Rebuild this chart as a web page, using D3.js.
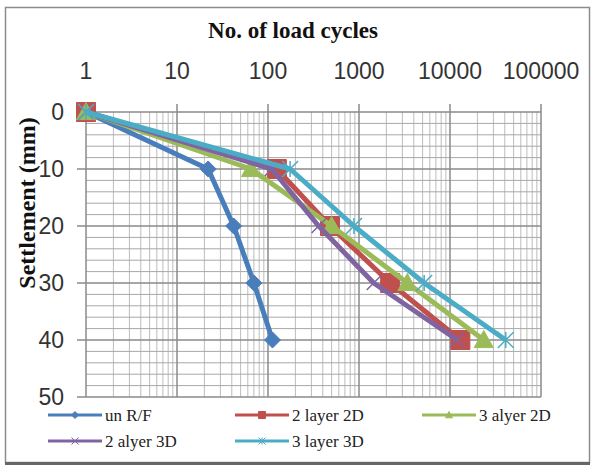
<!DOCTYPE html>
<html lang="en">
<head>
    <meta charset="UTF-8">
    <title>Settlement vs load cycles</title>
    <script src="https://cdn.jsdelivr.net/npm/d3@7/dist/d3.min.js"></script>
    <style>
        body { margin: 0; background: #fff; }
        svg { display: block; }
    </style>
</head>
<body>
<script>
    // chart size
    const width = 592;
    const height = 466;
    const plot = {left: 86, right: 541, top: 112, bottom: 397};

    // data: settlement levels and load cycles per series
    const settlement = [0, 10, 20, 30, 40];
    const unRF = [1, 22, 42, 70, 112];
    const layer2_2D = [1, 125, 480, 2200, 13000];
    const alyer3_2D = [1, 65, 500, 3400, 23500];
    const alyer2_3D = [1, 110, 360, 1450, 12000];
    const layer3_3D = [1, 175, 880, 5200, 41000];

    const seriesNames = ['un R/F', '2 layer 2D', '3 alyer 2D', '2 alyer 3D', '3 layer 3D'];
    const seriesValues = [unRF, layer2_2D, alyer3_2D, alyer2_3D, layer3_3D];
    const seriesColors = ['#4a7ebb', '#c0504d', '#9bbb59', '#8064a2', '#4bacc6'];
    const seriesMarkers = ['diamond', 'square', 'triangle', 'x', 'star'];

    const xTicks = [1, 10, 100, 1000, 10000, 100000];
    const yTicks = [0, 10, 20, 30, 40, 50];

    let svg = d3.select('body').append('svg')
        .attr('width', width)
        .attr('height', height);

    // outer chart border
    svg.append('rect')
        .attr('x', 5.5).attr('y', 7.5)
        .attr('width', 584).attr('height', 455)
        .attr('fill', '#fff')
        .attr('stroke', '#8c8c8c')
        .attr('stroke-width', 1.5);
    svg.append('line')
        .attr('x1', 5).attr('x2', 590)
        .attr('y1', 463.5).attr('y2', 463.5)
        .attr('stroke', '#666').attr('stroke-width', 3);

    let x = d3.scaleLog().domain([1, 100000]).range([plot.left, plot.right]);
    let y = d3.scaleLinear().domain([0, 50]).range([plot.top, plot.bottom]);

    // grid lines
    let grid = svg.append('g');
    let minorX = [];
    for (let d = 1; d < 100000; d *= 10) {
        for (let k = 2; k <= 9; k++) minorX.push(d * k);
    }
    grid.selectAll('.mx').data(minorX).enter().append('line')
        .attr('x1', d => x(d)).attr('x2', d => x(d))
        .attr('y1', plot.top).attr('y2', plot.bottom)
        .attr('stroke', '#bdbdbd').attr('stroke-width', 1);
    grid.selectAll('.my').data(d3.range(2, 50, 2).filter(v => v % 10 !== 0)).enter().append('line')
        .attr('x1', plot.left).attr('x2', plot.right)
        .attr('y1', d => y(d)).attr('y2', d => y(d))
        .attr('stroke', '#a8a8a8').attr('stroke-width', 1);
    grid.selectAll('.Mx').data(xTicks).enter().append('line')
        .attr('x1', d => x(d)).attr('x2', d => x(d))
        .attr('y1', plot.top - 8).attr('y2', plot.bottom)
        .attr('stroke', '#8a8a8a').attr('stroke-width', 1.5);
    grid.selectAll('.My').data(yTicks).enter().append('line')
        .attr('x1', plot.left - 9).attr('x2', plot.right)
        .attr('y1', d => y(d)).attr('y2', d => y(d))
        .attr('stroke', '#8a8a8a').attr('stroke-width', 1.5);

    // top axis labels
    svg.append('g').selectAll('text').data(xTicks).enter().append('text')
        .attr('x', d => x(d)).attr('y', 79)
        .attr('text-anchor', 'middle')
        .attr('font-family', 'Liberation Sans, Arial, sans-serif')
        .attr('font-size', 23).attr('fill', '#333')
        .text(d => d);

    // left axis labels
    svg.append('g').selectAll('text').data(yTicks).enter().append('text')
        .attr('x', 64).attr('y', d => y(d) + 8)
        .attr('text-anchor', 'end')
        .attr('font-family', 'Liberation Sans, Arial, sans-serif')
        .attr('font-size', 23).attr('fill', '#333')
        .text(d => d);

    // axis titles
    svg.append('text')
        .attr('x', 293).attr('y', 38)
        .attr('text-anchor', 'middle')
        .attr('font-family', 'Liberation Serif, Times New Roman, serif')
        .attr('font-weight', 'bold')
        .attr('font-size', 23).attr('fill', '#111')
        .text('No. of load cycles');
    svg.append('text')
        .attr('transform', 'translate(35,203) rotate(-90)')
        .attr('text-anchor', 'middle')
        .attr('font-family', 'Liberation Serif, Times New Roman, serif')
        .attr('font-weight', 'bold')
        .attr('font-size', 24).attr('fill', '#111')
        .text('Settlement (mm)');

    // marker shapes
    function markerPath (type, size) {
        const s = size / 2;
        if (type === 'diamond') return `M0,${-s}L${s},0L0,${s}L${-s},0Z`;
        if (type === 'square') return `M${-s},${-s}H${s}V${s}H${-s}Z`;
        if (type === 'triangle') return `M0,${-s}L${s},${s * 0.8}L${-s},${s * 0.8}Z`;
        if (type === 'x') return `M${-s},${-s}L${s},${s}M${s},${-s}L${-s},${s}`;
        return `M${-s},${-s}L${s},${s}M${s},${-s}L${-s},${s}M0,${-s}V${s}`;
    }
    const markerSize = [16, 19, 19, 14, 16];

    let line = d3.line()
        .x(d => x(d[0]))
        .y(d => y(d[1]));

    seriesValues.forEach((vals, i) => {
        let pts = vals.map((v, j) => [v, settlement[j]]);
        let g = svg.append('g');
        g.append('path')
            .attr('d', line(pts))
            .attr('fill', 'none')
            .attr('stroke', seriesColors[i])
            .attr('stroke-width', 5)
            .attr('stroke-linejoin', 'round');
        let filled = seriesMarkers[i] !== 'x' && seriesMarkers[i] !== 'star';
        g.selectAll('path.m').data(pts).enter().append('path')
            .attr('class', 'm')
            .attr('transform', d => `translate(${x(d[0])},${y(d[1])})`)
            .attr('d', markerPath(seriesMarkers[i], markerSize[i]))
            .attr('fill', filled ? seriesColors[i] : 'none')
            .attr('stroke', seriesColors[i])
            .attr('stroke-width', filled ? 1 : 1.5);
    });

    // legend
    const legendPos = [[48, 415], [235, 415], [422, 415], [48, 441], [235, 441]];
    let legend = svg.append('g');
    seriesNames.forEach((name, i) => {
        let [lx, ly] = legendPos[i];
        legend.append('line')
            .attr('x1', lx).attr('x2', lx + 54)
            .attr('y1', ly).attr('y2', ly)
            .attr('stroke', seriesColors[i]).attr('stroke-width', 3);
        let filled = seriesMarkers[i] !== 'x' && seriesMarkers[i] !== 'star';
        legend.append('path')
            .attr('transform', `translate(${lx + 27},${ly})`)
            .attr('d', markerPath(seriesMarkers[i], 7))
            .attr('fill', filled ? seriesColors[i] : 'none')
            .attr('stroke', seriesColors[i]);
        legend.append('text')
            .attr('x', lx + 57).attr('y', ly + 6)
            .attr('font-family', 'Liberation Serif, Times New Roman, serif')
            .attr('font-size', 17).attr('fill', '#222')
            .text(name);
    });
</script>
</body>
</html>
